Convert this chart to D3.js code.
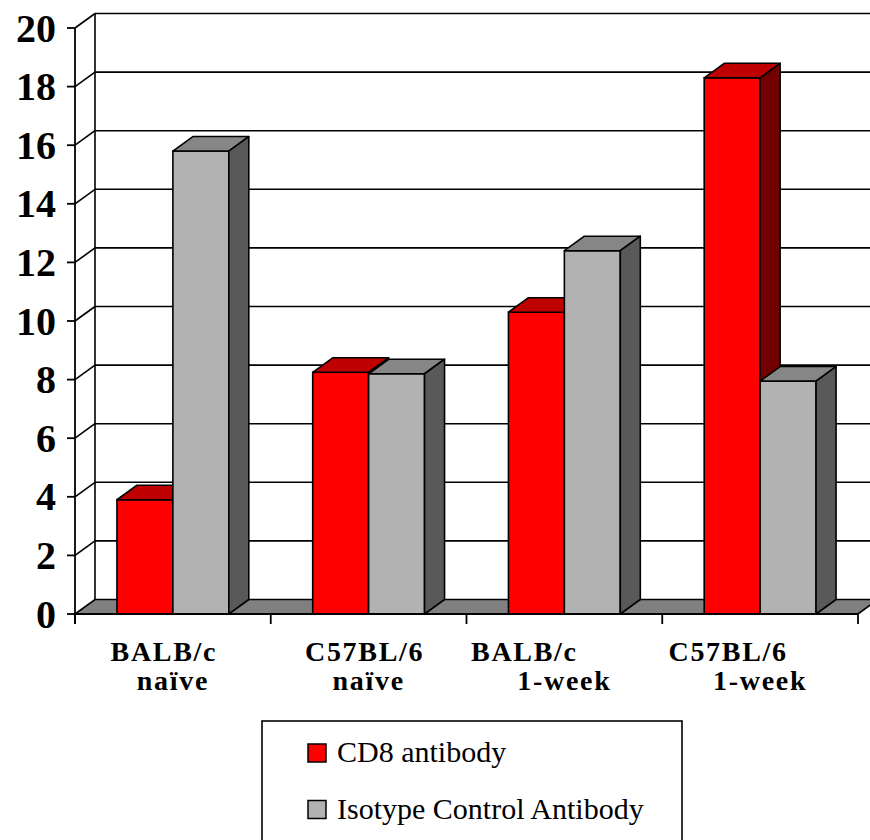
<!DOCTYPE html>
<html>
<head>
<meta charset="utf-8">
<script src="https://cdn.jsdelivr.net/npm/d3@7"></script>
<style>
  body { margin: 0; background: #fff; }
  svg { display: block; }
  text { font-family: "Liberation Serif", "Times New Roman", Times, "DejaVu Serif", serif; }
</style>
</head>
<body>
<script>
// data
var categories = ["BALB/c naive", "C57BL/6 naive", "BALB/c 1-week", "C57BL/6 1-week"];
var labelLines = [["BALB/c", "naïve"], ["C57BL/6", "naïve"], ["BALB/c", "1-week"], ["C57BL/6", "1-week"]];
var labelShift = [-9, -4, -40, -32];   // first line is set off to the left in the original
var series = ["CD8 antibody", "Isotype Control Antibody"];
var cd8 = [3.9, 8.25, 10.3, 18.3];
var isotype = [15.8, 8.2, 12.4, 7.95];
var yTicks = [0, 2, 4, 6, 8, 10, 12, 14, 16, 18, 20];

var width = 870, height = 840;
var depthX = 20, depthY = 14.5;
var serif = "'Liberation Serif', 'Times New Roman', Times, 'DejaVu Serif', serif";

var colors = {
  "CD8 antibody": {front: "#ff0000", top: "#bf0000", side: "#730000"},
  "Isotype Control Antibody": {front: "#b2b2b2", top: "#868686", side: "#595959"}
};

var svg = d3.select("body").append("svg")
    .attr("width", width)
    .attr("height", height)
    .attr("font-family", serif);

var y = d3.scaleLinear().domain([0, 20]).range([614, 28]);
var x = d3.scaleBand().domain(categories).range([75, 858]);
var xs = d3.scaleBand().domain(series).range([0, x.bandwidth()]).paddingOuter(0.75);

var x0 = x.range()[0], x1 = x.range()[1], y0 = y(0);

// back wall gridlines
svg.append("g").selectAll("line")
    .data(yTicks.filter(function(t) { return t > 0; }))
    .enter().append("line")
    .attr("x1", x0 + depthX).attr("x2", width)
    .attr("y1", function(d) { return y(d) - depthY; })
    .attr("y2", function(d) { return y(d) - depthY; })
    .attr("stroke", "#000").attr("stroke-width", 1.6);

// left wall: diagonals from the axis to the back wall
svg.append("g").selectAll("line")
    .data(yTicks.filter(function(t) { return t > 0; }))
    .enter().append("line")
    .attr("x1", x0).attr("x2", x0 + depthX)
    .attr("y1", function(d) { return y(d); })
    .attr("y2", function(d) { return y(d) - depthY; })
    .attr("stroke", "#000").attr("stroke-width", 1.6);

svg.append("line")
    .attr("x1", x0 + depthX).attr("x2", x0 + depthX)
    .attr("y1", y(20) - depthY).attr("y2", y0 - depthY)
    .attr("stroke", "#000").attr("stroke-width", 1.6);

// floor
svg.append("path")
    .attr("d", "M" + x0 + "," + y0 + "L" + (x0 + depthX) + "," + (y0 - depthY) +
               "L" + (x1 + depthX) + "," + (y0 - depthY) + "L" + x1 + "," + y0 + "Z")
    .attr("fill", "#808080").attr("stroke", "#000").attr("stroke-width", 1.6);

// bars
var bars = [];
categories.forEach(function(c, i) {
  bars.push({cat: c, s: series[0], v: cd8[i]});
  bars.push({cat: c, s: series[1], v: isotype[i]});
});

var g = svg.append("g").selectAll("g")
    .data(bars)
    .enter().append("g");

g.append("rect")
    .attr("x", function(d) { return x(d.cat) + xs(d.s); })
    .attr("y", function(d) { return y(d.v); })
    .attr("width", xs.bandwidth())
    .attr("height", function(d) { return y0 - y(d.v); })
    .attr("fill", function(d) { return colors[d.s].front; })
    .attr("stroke", "#000").attr("stroke-width", 1.6);

g.append("path")
    .attr("d", function(d) {
      var l = x(d.cat) + xs(d.s), r = l + xs.bandwidth(), t = y(d.v);
      return "M" + l + "," + t + "L" + (l + depthX) + "," + (t - depthY) +
             "L" + (r + depthX) + "," + (t - depthY) + "L" + r + "," + t + "Z";
    })
    .attr("fill", function(d) { return colors[d.s].top; })
    .attr("stroke", "#000").attr("stroke-width", 1.6).attr("stroke-linejoin", "round");

g.append("path")
    .attr("d", function(d) {
      var r = x(d.cat) + xs(d.s) + xs.bandwidth(), t = y(d.v);
      return "M" + r + "," + t + "L" + (r + depthX) + "," + (t - depthY) +
             "L" + (r + depthX) + "," + (y0 - depthY) + "L" + r + "," + y0 + "Z";
    })
    .attr("fill", function(d) { return colors[d.s].side; })
    .attr("stroke", "#000").attr("stroke-width", 1.6).attr("stroke-linejoin", "round");

// y axis
var yAxis = svg.append("g");
yAxis.append("line")
    .attr("x1", x0).attr("x2", x0)
    .attr("y1", y(20)).attr("y2", y0 + 10)
    .attr("stroke", "#000").attr("stroke-width", 1.8);
yAxis.selectAll(".tick").data(yTicks).enter().append("line")
    .attr("x1", x0 - 8).attr("x2", x0)
    .attr("y1", function(d) { return y(d); })
    .attr("y2", function(d) { return y(d); })
    .attr("stroke", "#000").attr("stroke-width", 1.8);
yAxis.selectAll("text").data(yTicks).enter().append("text")
    .attr("x", x0 - 19)
    .attr("y", function(d) { return y(d); })
    .attr("dy", "0.34em")
    .attr("text-anchor", "end")
    .attr("font-family", serif)
    .attr("font-size", 40).attr("font-weight", "bold")
    .text(function(d) { return d; });

// x axis
var xAxis = svg.append("g");
xAxis.append("line")
    .attr("x1", x0).attr("x2", x1)
    .attr("y1", y0).attr("y2", y0)
    .attr("stroke", "#000").attr("stroke-width", 1.8);
xAxis.selectAll(".tick").data(categories.concat([null])).enter().append("line")
    .attr("x1", function(d) { return d === null ? x1 : x(d); })
    .attr("x2", function(d) { return d === null ? x1 : x(d); })
    .attr("y1", y0).attr("y2", y0 + 10)
    .attr("stroke", "#000").attr("stroke-width", 1.8);

var lbl = xAxis.selectAll("text").data(categories).enter().append("text")
    .attr("font-family", serif)
    .attr("font-size", 28).attr("font-weight", "bold")
    .attr("letter-spacing", 1.7)
    .attr("text-anchor", "middle");
lbl.append("tspan")
    .attr("x", function(d, i) { return x(d) + x.bandwidth() / 2 + labelShift[i]; })
    .attr("y", 661)
    .text(function(d, i) { return labelLines[i][0]; });
lbl.append("tspan")
    .attr("x", function(d) { return x(d) + x.bandwidth() / 2; })
    .attr("y", 690)
    .text(function(d, i) { return labelLines[i][1]; });

// legend
var legend = svg.append("g");
legend.append("rect")
    .attr("x", 262).attr("y", 721)
    .attr("width", 420).attr("height", 140)
    .attr("fill", "#fff").attr("stroke", "#000").attr("stroke-width", 1.6);
var item = legend.selectAll(".item").data(series).enter().append("g")
    .attr("transform", function(d, i) { return "translate(308," + (762 + i * 56.5) + ")"; });
item.append("rect")
    .attr("x", 0).attr("y", -18)
    .attr("width", 18).attr("height", 18)
    .attr("fill", function(d) { return colors[d].front; })
    .attr("stroke", "#000").attr("stroke-width", 1.5);
item.append("text")
    .attr("x", 29).attr("y", 0)
    .attr("font-family", serif)
    .attr("font-size", 30)
    .text(function(d) { return d; });
</script>
</body>
</html>
